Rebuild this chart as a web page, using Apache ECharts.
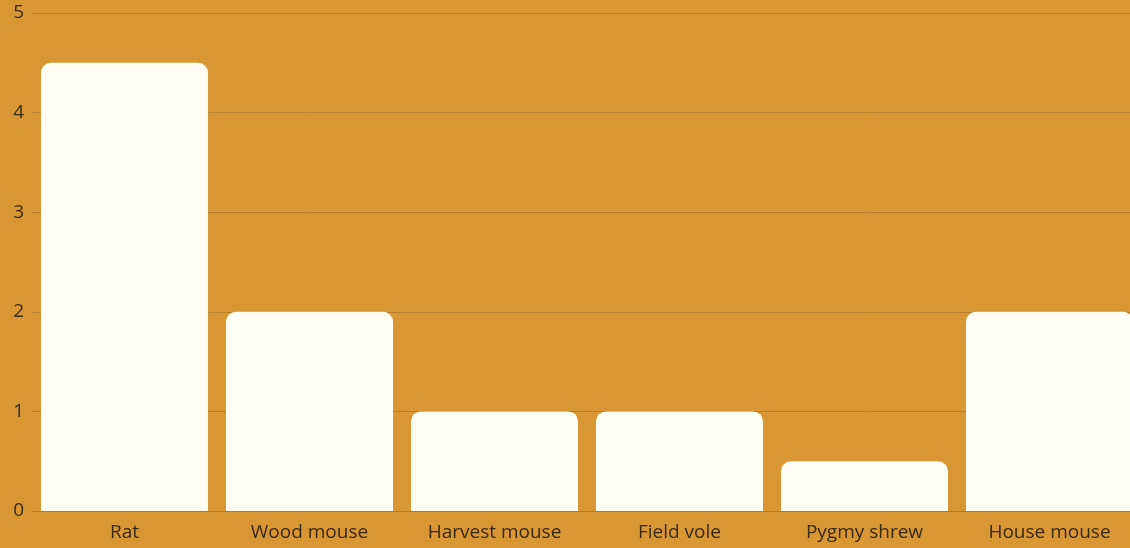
<!DOCTYPE html>
<html>
<head>
<meta charset="utf-8">
<script src="https://cdn.jsdelivr.net/npm/echarts@6/dist/echarts.min.js"></script>
<style>
html,body{margin:0;padding:0;background:#D99733;overflow:hidden;width:1130px;height:548px;}
#c{width:1142px;height:548px;}
</style>
</head>
<body>
<div id="c"></div>
<script>
const categories = ['Rat', 'Wood mouse', 'Harvest mouse', 'Field vole', 'Pygmy shrew', 'House mouse'];
const values = [4.5, 2, 1, 1, 0.5, 2];
const yTicks = [0, 1, 2, 3, 4, 5];

const chart = echarts.init(document.getElementById('c'));
chart.setOption({
  backgroundColor: '#D99733',
  animation: false,
  grid: { left: 32, right: 0, top: 13, bottom: 37, containLabel: false },
  xAxis: {
    type: 'category',
    data: categories,
    axisTick: { show: false },
    axisLine: { show: true, lineStyle: { color: '#B07A2A', width: 1 } },
    axisLabel: { color: '#3A2A12', fontFamily: 'Open Sans', fontSize: 19, margin: 12 }
  },
  yAxis: {
    type: 'value',
    min: 0, max: 5, interval: 1,
    axisLine: { show: false },
    axisTick: { show: false },
    splitLine: { lineStyle: { color: '#B97E2A', width: 1 } },
    axisLabel: { color: '#3A2A12', fontFamily: 'Open Sans', fontSize: 19, margin: 8,
      formatter: v => yTicks.includes(v) ? String(v) : '' }
  },
  series: [{
    type: 'bar',
    data: values,
    barCategoryGap: '9.7%',
    itemStyle: { color: '#FFFEF2', borderRadius: [10, 10, 0, 0] }
  }]
});
</script>
</body>
</html>
